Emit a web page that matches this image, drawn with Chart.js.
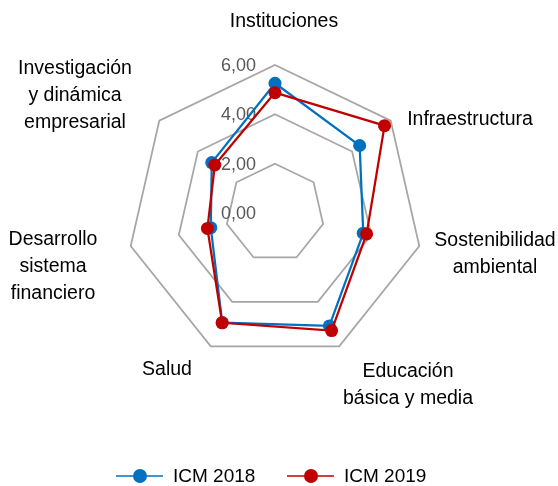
<!DOCTYPE html>
<html>
<head>
<meta charset="utf-8">
<script src="https://cdn.jsdelivr.net/npm/chart.js@4.4.0/dist/chart.umd.min.js"></script>
<style>
  html, body { margin: 0; padding: 0; background: #ffffff; }
  #wrap { width: 558px; height: 486px; position: relative; }
</style>
</head>
<body>
<div id="wrap"><canvas id="c" width="558" height="486"></canvas></div>
<script>
const categories = [
  ["Instituciones"],
  ["Infraestructura"],
  ["Sostenibilidad", "ambiental"],
  ["Educación", "básica y media"],
  ["Salud"],
  ["Desarrollo", "sistema", "financiero"],
  ["Investigación", "y dinámica", "empresarial"]
];
const icm2018 = [5.26, 4.39, 3.67, 5.08, 4.93, 2.67, 3.28];
const icm2019 = [4.88, 5.68, 3.81, 5.29, 4.94, 2.81, 3.12];
const tickValues = [0, 2, 4, 6];
const seriesNames = ["ICM 2018", "ICM 2019"];

const FONT = '"Liberation Sans", Arial, sans-serif';
const fmt = v => v.toFixed(2).replace('.', ',');

// label centers relative to scale center (text layout only)
const labelOffsets = [
  [9, -191], [195, -93], [220, 41], [133, 172], [-108, 157], [-222, 54], [-200, -117]
];
const LINE_H = 27;

const labelsPlugin = {
  id: 'customLabels',
  beforeDatasetsDraw(chart) {
    const s = chart.scales.r;
    const ctx = chart.ctx;
    ctx.save();
    ctx.font = '18px ' + FONT;
    ctx.fillStyle = '#595959';
    ctx.textAlign = 'right';
    ctx.textBaseline = 'middle';
    tickValues.forEach(v => {
      const d = s.getDistanceFromCenterForValue(v);
      ctx.fillText(fmt(v), s.xCenter - 19, s.yCenter - d + 1);
    });
    ctx.restore();
  },
  afterDraw(chart) {
    const s = chart.scales.r;
    const ctx = chart.ctx;
    ctx.save();
    ctx.font = '19.5px ' + FONT;
    ctx.fillStyle = '#000000';
    ctx.textAlign = 'center';
    ctx.textBaseline = 'middle';
    categories.forEach((lines, i) => {
      const [dx, dy] = labelOffsets[i];
      const cx = s.xCenter + dx;
      const cy = s.yCenter + dy;
      const top = cy - (lines.length - 1) * LINE_H / 2;
      lines.forEach((t, j) => ctx.fillText(t, cx, top + j * LINE_H));
    });
    // legend
    const legY = 476;
    const items = [
      {x: 116, color: '#0070C0', text: seriesNames[0]},
      {x: 287, color: '#C00000', text: seriesNames[1]}
    ];
    items.forEach(it => {
      ctx.strokeStyle = it.color;
      ctx.lineWidth = 1.5;
      ctx.beginPath();
      ctx.moveTo(it.x, legY);
      ctx.lineTo(it.x + 47, legY);
      ctx.stroke();
      ctx.fillStyle = it.color;
      ctx.beginPath();
      ctx.arc(it.x + 24, legY, 7, 0, Math.PI * 2);
      ctx.fill();
      ctx.fillStyle = '#000000';
      ctx.font = '19px ' + FONT;
      ctx.textAlign = 'left';
      ctx.fillText(it.text, it.x + 57, legY + 1);
    });
    ctx.restore();
  }
};

new Chart(document.getElementById('c'), {
  type: 'radar',
  data: {
    labels: categories,
    datasets: [
      {
        label: seriesNames[0],
        data: icm2018,
        borderColor: '#0070C0',
        backgroundColor: '#0070C0',
        pointBackgroundColor: '#0070C0',
        pointBorderColor: '#0070C0',
        borderWidth: 2.25,
        pointRadius: 6.5,
        pointBorderWidth: 0,
        fill: false,
        order: 1
      },
      {
        label: seriesNames[1],
        data: icm2019,
        borderColor: '#C00000',
        backgroundColor: '#C00000',
        pointBackgroundColor: '#C00000',
        pointBorderColor: '#C00000',
        borderWidth: 2.25,
        pointRadius: 6.5,
        pointBorderWidth: 0,
        fill: false,
        order: 0
      }
    ]
  },
  options: {
    responsive: false,
    animation: false,
    devicePixelRatio: 1,
    layout: { padding: { left: 127, right: 135, top: 65, bottom: 125 } },
    plugins: {
      legend: { display: false },
      tooltip: { enabled: false }
    },
    elements: { line: { tension: 0 } },
    scales: {
      r: {
        min: 0,
        max: 6,
        ticks: { display: false, stepSize: 2 },
        afterBuildTicks: (scale) => { scale.ticks = tickValues.map(v => ({value: v})); },
        pointLabels: { display: false },
        angleLines: { display: false },
        grid: { color: '#A6A6A6', lineWidth: 1.75 }
      }
    }
  },
  plugins: [labelsPlugin]
});
</script>
</body>
</html>
